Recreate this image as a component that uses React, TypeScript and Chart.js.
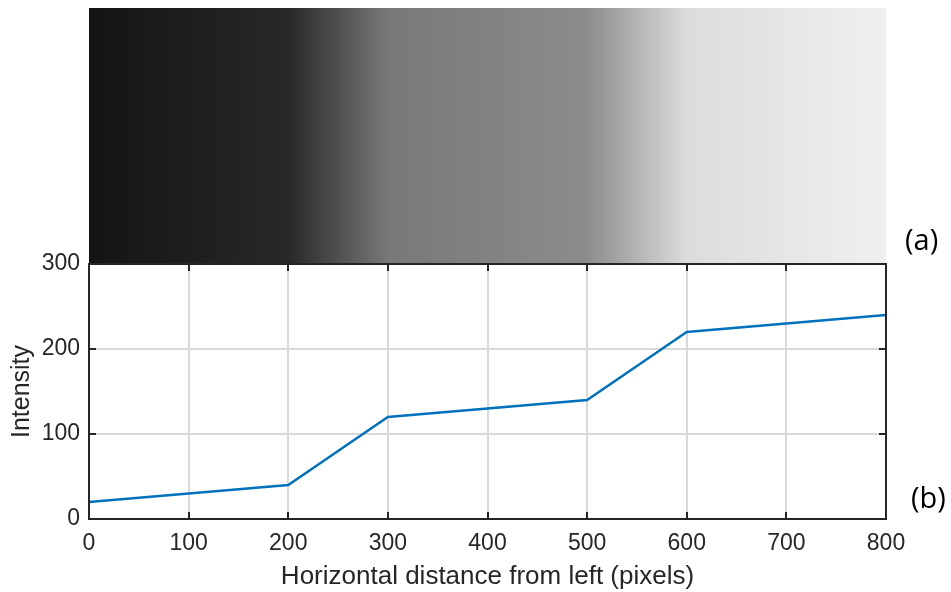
import React, { useEffect, useRef } from "react";
import { Chart, registerables } from "chart.js";
Chart.register(...registerables);

const xPositions = [0, 200, 300, 500, 600, 800];
const intensityValues = [20, 40, 120, 140, 220, 240];
const xAxisLabel = "Horizontal distance from left (pixels)";
const yAxisLabel = "Intensity";
const panelLabels = ["(a)", "(b)"];

export default function App() {
  const ref = useRef<HTMLCanvasElement>(null);

  useEffect(() => {
    const canvas = ref.current!;
    const AXIS = "#262626";
    const FONT = "'Liberation Sans', Arial, sans-serif";

    const figurePlugin = {
      id: "figurePlugin",
      beforeDraw(chart: any) {
        const { ctx, chartArea } = chart;
        const xs = chart.scales.x;
        const left = chartArea.left;
        const right = chartArea.right;
        const g = ctx.createLinearGradient(left, 0, right, 0);
        xPositions.forEach((v, i) => {
          const p = (xs.getPixelForValue(v) - left) / (right - left);
          const c = Math.round(intensityValues[i]);
          g.addColorStop(Math.min(1, Math.max(0, p)), `rgb(${c},${c},${c})`);
        });
        ctx.save();
        ctx.fillStyle = g;
        ctx.fillRect(left, 8, right - left, chartArea.top - 8);
        ctx.restore();
      },
      afterDraw(chart: any) {
        const { ctx, chartArea } = chart;
        const { left, right, top, bottom } = chartArea;
        const xs = chart.scales.x;
        const ys = chart.scales.y;
        const tl = 7;
        ctx.save();
        ctx.strokeStyle = AXIS;
        ctx.lineWidth = 2;
        ctx.beginPath();
        xs.ticks.forEach((t: any) => {
          const px = Math.round(xs.getPixelForValue(t.value));
          if (px <= left + 1 || px >= right - 1) return;
          ctx.moveTo(px, bottom);
          ctx.lineTo(px, bottom - tl);
          ctx.moveTo(px, top);
          ctx.lineTo(px, top + tl);
        });
        ys.ticks.forEach((t: any) => {
          const py = Math.round(ys.getPixelForValue(t.value));
          if (py <= top + 1 || py >= bottom - 1) return;
          ctx.moveTo(left, py);
          ctx.lineTo(left + tl, py);
          ctx.moveTo(right, py);
          ctx.lineTo(right - tl, py);
        });
        ctx.stroke();
        ctx.strokeRect(left, top, right - left, bottom - top);

        ctx.fillStyle = "#000";
        ctx.font = "29px 'Open Sans', sans-serif";
        ctx.textAlign = "left";
        ctx.textBaseline = "middle";
        ctx.fillText(panelLabels[0], right + 19, 242);
        ctx.fillText(panelLabels[1], right + 25, 500);
        ctx.restore();
      },
    };

    const chart = new Chart(canvas, {
      type: "line",
      data: {
        datasets: [
          {
            data: xPositions.map((x, i) => ({ x, y: intensityValues[i] })),
            borderColor: "rgb(0,114,189)",
            borderWidth: 2.4,
            pointRadius: 0,
            fill: false,
            tension: 0,
          },
        ],
      },
      options: {
        animation: false,
        responsive: false,
        devicePixelRatio: 1,
        layout: { padding: { top: 264, right: 65, bottom: 0, left: 0 } },
        plugins: { legend: { display: false }, tooltip: { enabled: false } },
        scales: {
          x: {
            type: "linear",
            min: 0,
            max: 800,
            afterFit: (s: any) => {
              s.height = 73;
            },
            ticks: {
              stepSize: 100,
              color: AXIS,
              padding: 11,
              maxRotation: 0,
              font: { family: FONT, size: 23 },
            },
            grid: { color: "#d9d9d9", lineWidth: 2, drawTicks: false },
            border: { display: false },
            title: {
              display: true,
              text: xAxisLabel,
              color: AXIS,
              font: { family: FONT, size: 26 },
              padding: { top: 0, bottom: 0 },
            },
          },
          y: {
            type: "linear",
            min: 0,
            max: 300,
            afterFit: (s: any) => {
              s.width = 89;
            },
            ticks: {
              stepSize: 100,
              color: AXIS,
              padding: 9,
              font: { family: FONT, size: 23 },
            },
            grid: { color: "#d9d9d9", lineWidth: 2, drawTicks: false },
            border: { display: false },
            title: {
              display: true,
              text: yAxisLabel,
              color: AXIS,
              font: { family: FONT, size: 25 },
              padding: { top: 7, bottom: 0 },
            },
          },
        },
      },
      plugins: [figurePlugin],
    });

    return () => chart.destroy();
  }, []);

  return (
    <div style={{ position: "fixed", left: 0, top: 0, width: 951, height: 592, background: "#fff" }}>
      <canvas ref={ref} width={951} height={592} style={{ display: "block" }} />
    </div>
  );
}
